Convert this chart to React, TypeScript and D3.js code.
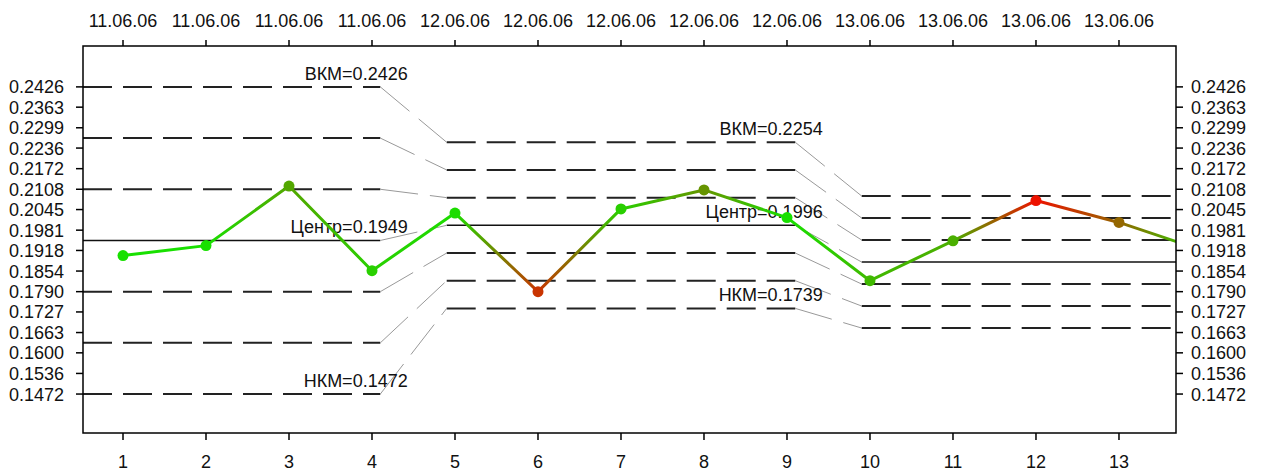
import React from "react";
import * as d3 from "d3";

// ---- data ----
const points = [1, 2, 3, 4, 5, 6, 7, 8, 9, 10, 11, 12, 13, 14];
const values = [0.1902, 0.1933, 0.2118, 0.1855, 0.2034, 0.1790, 0.2047, 0.2106, 0.2020, 0.1824, 0.1948, 0.2073, 0.2005, 0.1919];
const dateLabels = ["11.06.06", "11.06.06", "11.06.06", "11.06.06", "12.06.06", "12.06.06", "12.06.06", "12.06.06", "12.06.06", "13.06.06", "13.06.06", "13.06.06", "13.06.06"];
const xTicks = [1, 2, 3, 4, 5, 6, 7, 8, 9, 10, 11, 12, 13];
const yTicks = [0.2426, 0.2363, 0.2299, 0.2236, 0.2172, 0.2108, 0.2045, 0.1981, 0.1918, 0.1854, 0.1790, 0.1727, 0.1663, 0.1600, 0.1536, 0.1472];
const segFirst = [1, 5, 10];
const segLast = [4, 9, 14];
const segUCL = [0.2426, 0.2254, 0.2087];
const segCenter = [0.1949, 0.1996, 0.1882];
const segLCL = [0.1472, 0.1739, 0.1677];
const segShowLabel = [true, true, false];

const W = 1265, H = 472;
const L = 83, R = 1176, T = 46, B = 433;
const FONT = "'Liberation Sans', Arial, sans-serif";

export default function App() {
  const x = d3.scaleLinear().domain([0.518, 13.687]).range([L, R]);
  const y = d3.scaleLinear().domain([0.1351, 0.2553]).range([B, T]);

  const segIndexOf = (p: number) => segFirst.findIndex((f, i) => p >= f && p <= segLast[i]);
  const colorScale = d3.scaleLinear<string>()
    .domain([0.4, 3.0])
    .range(["#18e000", "#ff0000"])
    .interpolate(d3.interpolateRgb)
    .clamp(true);
  const colorOf = (i: number) => {
    const s = segIndexOf(points[i]);
    const sigma = (segUCL[s] - segCenter[s]) / 3;
    const z = Math.abs(values[i] - segCenter[s]) / sigma;
    return colorScale(z);
  };

  const levelsFor = (s: number) => {
    const sig = (segUCL[s] - segCenter[s]) / 3;
    return [-3, -2, -1, 0, 1, 2, 3].map((k) => ({ k, v: segCenter[s] + k * sig }));
  };
  const segX0 = (s: number) => (s === 0 ? x.domain()[0] : segFirst[s] - 0.1);
  const segX1 = (s: number) => (s === segFirst.length - 1 ? x.domain()[1] : segLast[s] + 0.1);

  return (
    <svg width={W} height={H} style={{ position: "absolute", left: 0, top: 0, background: "#fff" }} fontFamily={FONT} fontSize={18}>
      <defs>
        <clipPath id="plotclip">
          <rect x={L} y={T} width={R - L} height={B - T} />
        </clipPath>
        {values.slice(0, -1).map((v, i) => (
          <linearGradient key={i} id={`g${i}`} gradientUnits="userSpaceOnUse"
            x1={x(points[i])} y1={y(v)} x2={x(points[i + 1])} y2={y(values[i + 1])}>
            <stop offset="0%" stopColor={colorOf(i)} />
            <stop offset="100%" stopColor={colorOf(i + 1)} />
          </linearGradient>
        ))}
      </defs>

      {/* control limit segments */}
      <g clipPath="url(#plotclip)">
        {segFirst.map((_, s) =>
          levelsFor(s).map(({ k, v }) => (
            <line key={`${s}-${k}`} x1={x(segX0(s))} x2={x(segX1(s))} y1={y(v)} y2={y(v)}
              stroke={k === 0 ? "#111" : "#222"} strokeWidth={k === 0 ? 1.5 : 2}
              strokeDasharray={k === 0 ? undefined : "29 11"} />
          ))
        )}
        {/* connectors */}
        {segFirst.slice(0, -1).map((_, s) => {
          const b = levelsFor(s + 1);
          return levelsFor(s).map(({ k, v }, j) => (
            <line key={`c${s}-${k}`} x1={x(segLast[s] + 0.1)} y1={y(v)} x2={x(segFirst[s + 1] - 0.1)} y2={y(b[j].v)}
              stroke="#999" strokeWidth={1} strokeDasharray="38 12" />
          ));
        })}
      </g>

      {/* limit labels */}
      {segFirst.map((_, s) =>
        segShowLabel[s] ? (
          <g key={`lab${s}`} textAnchor="end" fill="#111">
            <text x={x(segLast[s] + 0.43)} y={y(segUCL[s]) - 7}>{`ВКМ=${segUCL[s].toFixed(4)}`}</text>
            <text x={x(segLast[s] + 0.43)} y={y(segCenter[s]) - 7}>{`Центр=${segCenter[s].toFixed(4)}`}</text>
            <text x={x(segLast[s] + 0.43)} y={y(segLCL[s]) - 7}>{`НКМ=${segLCL[s].toFixed(4)}`}</text>
          </g>
        ) : null
      )}

      {/* data line */}
      <g clipPath="url(#plotclip)">
        {values.slice(0, -1).map((v, i) => (
          <path key={`s${i}`} d={d3.line()([[x(points[i]), y(v)], [x(points[i + 1]), y(values[i + 1])]]) || ""}
            stroke={`url(#g${i})`} strokeWidth={3} fill="none" strokeLinecap="round" />
        ))}
        {values.map((v, i) => (
          <circle key={`p${i}`} cx={x(points[i])} cy={y(v)} r={5.5} fill={colorOf(i)} />
        ))}
      </g>

      {/* frame */}
      <rect x={L} y={T} width={R - L} height={B - T} fill="none" stroke="#000" strokeWidth={1.5} />

      {/* bottom axis */}
      {xTicks.map((t) => (
        <g key={`bx${t}`}>
          <line x1={x(t)} x2={x(t)} y1={B} y2={B + 7} stroke="#000" strokeWidth={1.5} />
          <text x={x(t)} y={468} textAnchor="middle" fill="#111">{t}</text>
        </g>
      ))}
      {/* top axis */}
      {xTicks.map((t, i) => (
        <g key={`tx${t}`}>
          <line x1={x(t)} x2={x(t)} y1={T} y2={T - 6} stroke="#000" strokeWidth={1.5} />
          <text x={x(t)} y={27} textAnchor="middle" fill="#111">{dateLabels[i]}</text>
        </g>
      ))}
      {/* left & right axes */}
      {yTicks.map((t) => (
        <g key={`y${t}`}>
          <line x1={L - 7} x2={L} y1={y(t)} y2={y(t)} stroke="#000" strokeWidth={1.5} />
          <text x={64} y={y(t)} dy="0.36em" textAnchor="end" fill="#111">{t.toFixed(4)}</text>
          <line x1={R} x2={R + 7} y1={y(t)} y2={y(t)} stroke="#000" strokeWidth={1.5} />
          <text x={1191} y={y(t)} dy="0.36em" textAnchor="start" fill="#111">{t.toFixed(4)}</text>
        </g>
      ))}
    </svg>
  );
}
